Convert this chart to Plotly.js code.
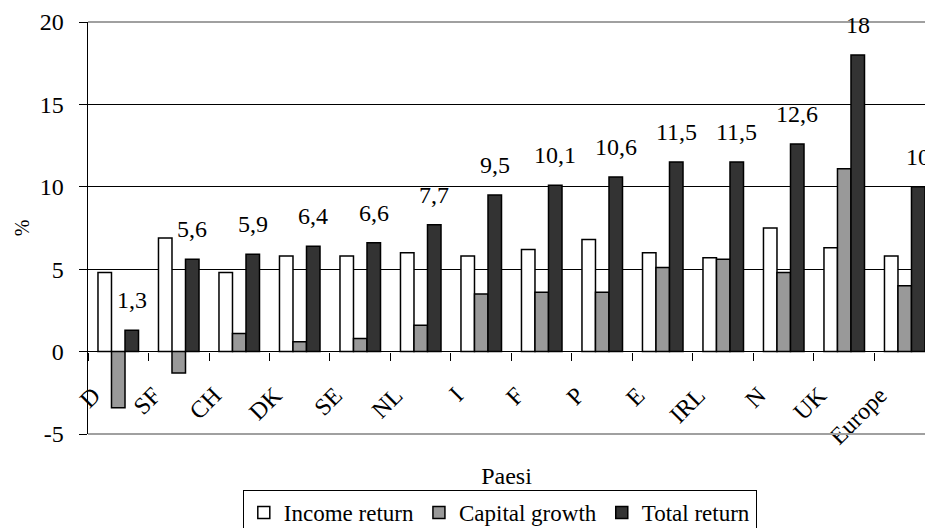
<!DOCTYPE html>
<html>
<head>
<meta charset="utf-8">
<script src="https://cdn.plot.ly/plotly-3.0.1.min.js"></script>
<style>html,body{margin:0;padding:0;background:#fff;}#chart{width:925px;height:528px;}</style>
</head>
<body>
<div id="chart"></div>
<script>
const countries = ['D','SF','CH','DK','SE','NL','I','F','P','E','IRL','N','UK','Europe'];
const incomeReturn = [4.8, 6.9, 4.8, 5.8, 5.8, 6.0, 5.8, 6.2, 6.8, 6.0, 5.7, 7.5, 6.3, 5.8];
const capitalGrowth = [-3.4, -1.3, 1.1, 0.6, 0.8, 1.6, 3.5, 3.6, 3.6, 5.1, 5.6, 4.8, 11.1, 4.0];
const totalReturn = [1.3, 5.6, 5.9, 6.4, 6.6, 7.7, 9.5, 10.1, 10.6, 11.5, 11.5, 12.6, 18, 10];
const seriesNames = ['Income return', 'Capital growth', 'Total return'];
const yTickVals = [-5, 0, 5, 10, 15, 20];
const yTickText = ['-5', '0', '5', '10', '15', '20'];

const FONT = 'Liberation Serif';
const BARGAP = 0.33;
const barW = (1 - BARGAP) / 3;

function bar(name, y, color) {
  return {
    type: 'bar', name: name, x: countries, y: y,
    marker: {color: color, line: {color: '#000', width: 1.5}},
    hoverinfo: 'x+y'
  };
}

const traces = [
  bar(seriesNames[0], incomeReturn, '#ffffff'),
  bar(seriesNames[1], capitalGrowth, '#999999'),
  bar(seriesNames[2], totalReturn, '#333333')
];

const annotations = totalReturn.map((v, i) => ({
  xref: 'x', yref: 'y', x: i + barW, y: v,
  text: String(v).replace('.', ','),
  showarrow: false, yanchor: 'bottom', xanchor: 'center', yshift: 15,
  font: {family: FONT, size: 24, color: '#000'}
}));

const layout = {
  width: 925, height: 528,
  margin: {l: 88, r: 0, t: 22, b: 94, pad: 0},
  paper_bgcolor: '#fff', plot_bgcolor: '#fff',
  font: {family: FONT, size: 24, color: '#000'},
  barmode: 'group', bargap: BARGAP, bargroupgap: 0,
  showlegend: true,
  legend: {
    orientation: 'h', x: 0.492, xanchor: 'center',
    yref: 'container', y: 0.072, yanchor: 'top',
    bordercolor: '#000', borderwidth: 1, bgcolor: '#fff',
    font: {family: FONT, size: 23, color: '#000'},
    itemwidth: 30, tracegroupgap: 0
  },
  xaxis: {
    type: 'category', range: [-0.5, 13.335],
    anchor: 'free', position: 0.2,
    showline: false, showgrid: false, zeroline: false,
    ticks: 'outside', tickson: 'boundaries', ticklen: 8, tickcolor: '#000', tickwidth: 1,
    tickangle: -45, ticklabelstandoff: 24, ticklabelshift: -25,
    tickfont: {family: FONT, size: 24, color: '#000'},
    title: {text: 'Paesi', standoff: 18, font: {family: FONT, size: 24, color: '#000'}},
    automargin: false, fixedrange: true
  },
  yaxis: {
    range: [-5, 20], domain: [0, 1],
    tickvals: yTickVals, ticktext: yTickText,
    showgrid: true, gridcolor: '#000', gridwidth: 1,
    zeroline: true, zerolinecolor: '#000', zerolinewidth: 1,
    showline: true, linecolor: '#000', linewidth: 1.5,
    ticks: 'outside', ticklen: 8, tickcolor: '#000', tickwidth: 1,
    ticklabelstandoff: 10,
    tickfont: {family: FONT, size: 24, color: '#000'},
    title: {text: '%', standoff: 4, font: {family: FONT, size: 20, color: '#000'}},
    automargin: false, fixedrange: true
  },
  shapes: [
    {type: 'line', xref: 'paper', yref: 'paper', x0: 0, x1: 1, y0: 1, y1: 1, line: {color: '#a0a0a0', width: 2}},
    {type: 'line', xref: 'paper', yref: 'paper', x0: 0, x1: 1, y0: 0, y1: 0, line: {color: '#a0a0a0', width: 2}}
  ],
  annotations: annotations
};

Plotly.newPlot('chart', traces, layout, {staticPlot: true, displayModeBar: false});
</script>
</body>
</html>
